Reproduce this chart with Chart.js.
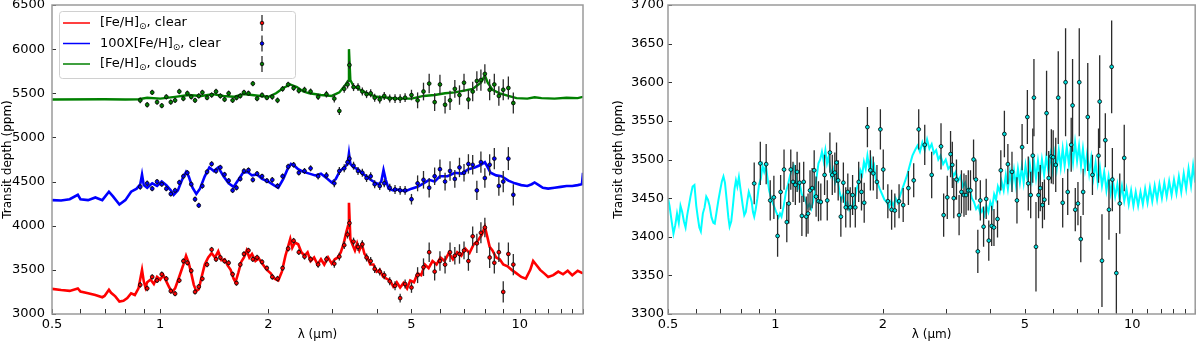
<!DOCTYPE html>
<html>
<head>
<meta charset="utf-8">
<script src="https://cdn.jsdelivr.net/npm/chart.js@4.4.0/dist/chart.umd.min.js"></script>
<style>
  html, body { margin: 0; padding: 0; background: #fff; }
  #wrap { position: relative; width: 1200px; height: 346px; }
  .panel { position: absolute; top: 0; width: 600px; height: 346px; }
</style>
</head>
<body>
<div id="wrap">
  <div class="panel" style="left:0"><canvas id="left" width="600" height="346"></canvas></div>
  <div class="panel" style="left:600px"><canvas id="right" width="600" height="346"></canvas></div>
</div>
<script>
// ---- axes ----
const xTickVals = [0.5, 0.6, 0.7, 0.8, 0.9, 1, 2, 3, 4, 5, 6, 7, 8, 9, 10, 11, 12, 13, 14, 15];
const xTickLabels = [0.5, 1, 2, 5, 10];
const leftYTicks = [3000, 3500, 4000, 4500, 5000, 5500, 6000, 6500];
const rightYTicks = [3300, 3350, 3400, 3450, 3500, 3550, 3600, 3650, 3700];

// ---- left panel: model spectra [wavelength um, depth ppm] ----
const redModel = [
  [0.50,3285],[0.53,3272],[0.56,3262],[0.59,3290],[0.60,3255],[0.63,3235],[0.66,3215],[0.69,3190],[0.70,3205],[0.72,3275],
  [0.73,3240],[0.75,3200],[0.77,3140],[0.79,3150],[0.81,3180],[0.83,3235],[0.85,3215],[0.87,3290],[0.89,3500],[0.90,3370],
  [0.91,3300],[0.92,3360],[0.94,3390],[0.96,3340],[0.98,3420],[1.00,3390],[1.02,3440],[1.04,3370],[1.06,3300],[1.08,3250],
  [1.10,3290],[1.12,3380],[1.14,3470],[1.16,3560],[1.18,3660],[1.20,3580],[1.22,3460],[1.24,3330],[1.26,3260],[1.28,3280],
  [1.30,3400],[1.33,3560],[1.36,3640],[1.39,3690],[1.42,3640],[1.45,3710],[1.48,3610],[1.51,3620],[1.54,3550],[1.57,3500],
  [1.60,3400],[1.62,3360],[1.65,3470],[1.68,3590],[1.71,3640],[1.74,3720],[1.77,3640],[1.80,3680],[1.84,3600],[1.88,3630],
  [1.93,3560],[1.98,3500],[2.03,3460],[2.08,3400],[2.13,3380],[2.18,3480],[2.23,3660],[2.27,3770],[2.30,3850],[2.33,3750],
  [2.37,3810],[2.42,3790],[2.47,3700],[2.52,3660],[2.57,3700],[2.62,3600],[2.68,3640],[2.74,3560],[2.80,3620],[2.86,3560],
  [2.93,3640],[3.00,3570],[3.06,3620],[3.12,3640],[3.18,3700],[3.24,3800],[3.29,3920],[3.33,4000],[3.35,4260],[3.38,3850],
  [3.43,3780],[3.48,3720],[3.53,3800],[3.58,3720],[3.64,3790],[3.70,3680],[3.77,3640],[3.84,3560],[3.92,3560],[4.00,3480],
  [4.08,3500],[4.17,3420],[4.26,3400],[4.36,3380],[4.45,3310],[4.55,3360],[4.65,3300],[4.75,3350],[4.86,3290],[4.96,3380],
  [5.08,3360],[5.20,3460],[5.32,3440],[5.45,3560],[5.58,3520],[5.72,3600],[5.87,3560],[6.02,3640],[6.18,3600],[6.35,3690],
  [6.52,3620],[6.70,3700],[6.88,3660],[7.06,3740],[7.25,3690],[7.45,3790],[7.65,3830],[7.85,3900],[8.00,3990],[8.12,3880],
  [8.25,3760],[8.40,3720],[8.60,3640],[8.80,3620],[9.00,3560],[9.25,3540],[9.50,3500],[9.80,3460],[10.1,3420],[10.4,3400],
  [10.7,3500],[10.9,3600],[11.1,3560],[11.4,3500],[11.7,3460],[12.0,3420],[12.4,3440],[12.8,3480],[13.2,3450],[13.6,3490],
  [14.0,3440],[14.5,3490],[15.0,3460]
];
const blueModel = [
  [0.50,4290],[0.53,4285],[0.56,4300],[0.59,4350],[0.60,4300],[0.63,4290],[0.66,4320],[0.69,4290],[0.72,4385],[0.74,4330],
  [0.77,4240],[0.80,4290],[0.83,4385],[0.86,4420],[0.88,4470],[0.89,4580],[0.90,4460],[0.92,4430],[0.95,4480],[0.98,4450],
  [1.01,4500],[1.04,4460],[1.07,4400],[1.09,4350],[1.12,4400],[1.15,4520],[1.18,4610],[1.20,4560],[1.23,4430],[1.26,4360],
  [1.29,4420],[1.33,4560],[1.37,4660],[1.41,4620],[1.45,4660],[1.50,4560],[1.55,4480],[1.60,4440],[1.65,4520],[1.70,4600],
  [1.75,4610],[1.80,4570],[1.86,4580],[1.92,4530],[2.00,4500],[2.07,4460],[2.13,4430],[2.20,4530],[2.26,4640],[2.31,4700],
  [2.36,4680],[2.42,4640],[2.50,4610],[2.60,4590],[2.70,4570],[2.80,4590],[2.90,4540],[3.00,4490],[3.08,4530],[3.16,4620],
  [3.25,4660],[3.32,4700],[3.35,4820],[3.38,4700],[3.45,4660],[3.55,4640],[3.65,4590],[3.75,4560],[3.85,4520],[3.95,4490],
  [4.05,4470],[4.12,4500],[4.18,4630],[4.24,4520],[4.32,4420],[4.45,4400],[4.60,4410],[4.80,4390],[5.00,4420],[5.20,4440],
  [5.40,4480],[5.60,4520],[5.80,4500],[6.00,4560],[6.30,4560],[6.60,4600],[6.90,4590],[7.20,4640],[7.50,4660],[7.80,4690],
  [8.00,4720],[8.15,4660],[8.30,4600],[8.60,4570],[8.90,4560],[9.30,4510],[9.70,4480],[10.1,4460],[10.5,4450],[10.8,4470],
  [11.0,4490],[11.3,4460],[11.6,4430],[12.0,4420],[12.5,4430],[13.0,4440],[13.5,4450],[14.0,4450],[14.5,4460],[14.9,4470],
  [15.0,4600]
];
const greenModel = [
  [0.50,5430],[0.70,5432],[0.80,5430],[0.87,5432],[0.92,5450],[1.00,5440],[1.10,5460],[1.20,5480],[1.30,5470],[1.40,5490],
  [1.50,5470],[1.60,5460],[1.70,5490],[1.80,5480],[1.90,5470],[2.00,5460],[2.10,5500],[2.20,5560],[2.30,5600],[2.40,5570],
  [2.50,5520],[2.60,5500],[2.80,5480],[3.00,5470],[3.15,5510],[3.28,5600],[3.33,5640],[3.35,6000],[3.38,5650],[3.45,5580],
  [3.60,5540],[3.80,5490],[4.00,5460],[4.30,5450],[4.60,5440],[5.00,5440],[5.40,5470],[5.80,5480],[6.20,5500],[6.60,5510],
  [7.00,5530],[7.40,5550],[7.80,5620],[8.00,5700],[8.15,5620],[8.40,5540],[8.80,5500],[9.30,5470],[9.80,5445],[10.5,5440],
  [11.0,5455],[11.5,5445],[12.5,5440],[13.5,5450],[14.5,5445],[15.0,5460]
];

// ---- left panel: simulated observations ----
const obsLam = [0.88,0.92,0.95,0.98,1.01,1.04,1.07,1.10,1.13,1.16,
  1.19,1.22,1.25,1.28,1.31,1.35,1.39,1.43,1.47,1.51,
  1.55,1.59,1.63,1.67,1.71,1.76,1.81,1.86,1.92,1.98,
  2.05,2.12,2.19,2.27,2.35,2.43,2.52,2.62,2.75,2.90,
  3.05,3.15,3.25,3.32,3.36,3.45,3.55,3.65,3.75,3.85,
  3.95,4.08,4.20,4.35,4.50,4.65,4.80,5.00,5.20,5.40,
  5.60,5.80,6.00,6.20,6.40,6.60,6.80,7.00,7.20,7.40,
  7.60,7.80,8.00,8.25,8.50,8.75,9.00,9.30,9.60];
const redObs = [3330,3290,3420,3380,3450,3400,3260,3230,3380,3600,
  3580,3490,3250,3310,3400,3560,3730,3620,3640,3600,
  3580,3450,3350,3560,3680,3720,3620,3640,3590,3520,
  3420,3400,3520,3740,3830,3700,3650,3620,3560,3620,
  3570,3650,3780,3900,4030,3820,3760,3790,3640,3600,
  3510,3480,3440,3370,3320,3180,3340,3300,3440,3530,
  3700,3480,3600,3560,3700,3660,3680,3720,3600,3880,
  3800,3920,3980,3640,3580,3700,3250,3680,3560];
const blueObs = [4440,4480,4420,4500,4470,4420,4360,4400,4490,4560,
  4600,4470,4300,4230,4450,4610,4700,4620,4660,4580,
  4510,4400,4430,4530,4620,4630,4520,4590,4560,4510,
  4520,4450,4560,4670,4690,4600,4620,4650,4560,4570,
  4480,4620,4650,4720,4760,4680,4620,4600,4540,4560,
  4470,4450,4480,4430,4410,4400,4400,4300,4480,4520,
  4430,4560,4640,4500,4620,4530,4660,4600,4700,4690,
  4400,4720,4540,4690,4760,4450,4500,4760,4350];
const greenObs = [5420,5370,5510,5400,5360,5460,5400,5420,5520,5440,
  5500,5460,5420,5470,5510,5450,5480,5520,5470,5430,
  5500,5420,5450,5470,5510,5500,5610,5440,5480,5450,
  5460,5420,5550,5600,5560,5530,5540,5520,5460,5490,
  5440,5300,5550,5600,5820,5570,5570,5520,5490,5500,
  5450,5430,5470,5440,5440,5440,5450,5480,5420,5520,
  5610,5400,5600,5370,5420,5550,5480,5620,5430,5520,
  5640,5650,5720,5540,5600,5470,5540,5560,5390];
const obsErr = [32,32,30,30,30,30,30,30,30,30,
  30,30,30,30,30,30,30,30,30,30,
  30,30,30,30,30,30,30,30,30,30,
  32,32,32,32,32,32,34,34,36,38,
  45,45,45,45,45,45,45,45,45,45,
  45,45,45,45,50,50,50,60,90,100,
  110,100,110,100,110,100,110,100,110,110,
  110,120,110,120,120,110,120,130,120];

// ---- right panel: model and retrieved spectrum ----
const steamModel = [
  [0.500,3450],[0.505,3440],[0.512,3420],[0.518,3404],[0.524,3415],[0.530,3430],[0.536,3418],[0.542,3440],[0.548,3432],[0.554,3420],
  [0.560,3412],[0.566,3428],[0.572,3440],[0.578,3452],[0.586,3465],[0.593,3467],[0.600,3440],[0.606,3425],[0.612,3412],[0.618,3407],
  [0.626,3430],[0.633,3438],[0.640,3452],[0.647,3448],[0.654,3440],[0.662,3425],[0.670,3418],[0.676,3417],[0.684,3432],[0.692,3447],
  [0.700,3460],[0.708,3472],[0.715,3478],[0.722,3470],[0.730,3448],[0.738,3425],[0.744,3413],[0.752,3420],[0.760,3440],[0.768,3462],
  [0.775,3473],[0.782,3465],[0.790,3477],[0.800,3458],[0.810,3440],[0.818,3428],[0.826,3432],[0.834,3446],[0.842,3458],[0.850,3452],
  [0.858,3445],[0.865,3432],[0.872,3426],[0.880,3435],[0.890,3450],[0.900,3468],[0.910,3475],[0.920,3492],[0.930,3484],[0.940,3492],
  [0.950,3476],[0.960,3460],[0.975,3448],[0.990,3440],[1.005,3432],[1.020,3425],[1.030,3430],[1.040,3426],[1.055,3440],[1.070,3458],
  [1.085,3468],[1.100,3480],[1.115,3488],[1.125,3492],[1.140,3480],[1.155,3462],[1.170,3468],[1.185,3455],[1.200,3452],[1.215,3446],
  [1.230,3438],[1.245,3442],[1.260,3436],[1.275,3445],[1.290,3460],[1.305,3478],[1.320,3495],[1.335,3500],[1.350,3510],[1.365,3498],
  [1.380,3512],[1.395,3495],[1.410,3504],[1.430,3480],[1.450,3488],[1.470,3470],[1.490,3478],[1.510,3460],[1.530,3448],[1.550,3455],
  [1.570,3440],[1.590,3445],[1.610,3435],[1.630,3440],[1.650,3438],[1.670,3450],[1.690,3462],[1.710,3470],[1.730,3486],[1.750,3480],
  [1.770,3497],[1.790,3488],[1.810,3505],[1.830,3490],[1.850,3500],[1.870,3486],[1.890,3492],[1.910,3475],[1.930,3470],[1.960,3462],
  [1.990,3455],[2.020,3448],[2.050,3445],[2.080,3438],[2.110,3446],[2.140,3440],[2.170,3450],[2.200,3444],[2.230,3452],[2.260,3460],
  [2.300,3470],[2.340,3480],[2.380,3493],[2.420,3505],[2.460,3512],[2.500,3518],[2.540,3510],[2.580,3522],[2.620,3512],[2.660,3526],
  [2.700,3514],[2.740,3520],[2.780,3508],[2.820,3512],[2.860,3500],[2.900,3505],[2.950,3494],[3.000,3500],[3.050,3488],[3.100,3492],
  [3.150,3478],[3.200,3484],[3.250,3472],[3.300,3478],[3.350,3465],[3.400,3470],[3.450,3458],[3.500,3462],[3.550,3450],[3.600,3445],
  [3.650,3436],[3.700,3440],[3.750,3430],[3.800,3436],[3.850,3428],[3.900,3440],[3.950,3432],[4.000,3445],[4.050,3438],[4.100,3455],
  [4.150,3448],[4.200,3465],[4.250,3458],[4.300,3472],[4.36,3460],[4.42,3480],[4.48,3462],[4.54,3484],[4.60,3466],[4.66,3486],
  [4.72,3466],[4.78,3488],[4.84,3470],[4.90,3490],[4.96,3470],[5.02,3492],[5.09,3472],[5.16,3494],[5.23,3474],[5.30,3498],
  [5.37,3476],[5.44,3498],[5.51,3478],[5.58,3500],[5.66,3480],[5.74,3504],[5.82,3484],[5.90,3506],[5.98,3486],[6.06,3508],
  [6.14,3488],[6.22,3512],[6.30,3490],[6.38,3514],[6.46,3492],[6.55,3516],[6.64,3494],[6.73,3518],[6.82,3496],[6.91,3522],
  [7.00,3498],[7.09,3518],[7.18,3492],[7.27,3514],[7.37,3488],[7.47,3508],[7.57,3482],[7.67,3502],[7.78,3476],[7.89,3496],
  [8.00,3470],[8.11,3490],[8.22,3466],[8.34,3484],[8.46,3460],[8.58,3478],[8.70,3456],[8.82,3472],[8.95,3452],[9.08,3468],
  [9.21,3448],[9.35,3466],[9.49,3446],[9.63,3462],[9.77,3442],[9.92,3460],[10.07,3440],[10.22,3458],[10.38,3440],[10.54,3458],
  [10.70,3442],[10.86,3462],[11.03,3444],[11.20,3464],[11.37,3446],[11.55,3466],[11.73,3448],[11.91,3468],[12.10,3450],[12.29,3470],
  [12.48,3452],[12.68,3472],[12.88,3454],[13.08,3474],[13.29,3456],[13.50,3478],[13.71,3458],[13.93,3482],[14.15,3462],[14.37,3488],
  [14.60,3466],[14.80,3492],[15.00,3470]
];
const steamLam = [0.872,0.907,0.942,0.967,0.990,1.014,1.034,1.057,1.076,1.090,
  1.104,1.120,1.137,1.150,1.168,1.186,1.200,1.220,1.234,1.250,
  1.267,1.284,1.300,1.320,1.340,1.373,1.397,1.421,1.443,1.467,
  1.483,1.499,1.525,1.550,1.574,1.595,1.620,1.645,1.674,1.711,
  1.742,1.773,1.810,1.845,1.880,1.925,1.968,2.005,2.065,2.116,
  2.160,2.220,2.280,2.358,2.440,2.520,2.620,2.740,2.910,2.960,
  3.030,3.095,3.130,3.160,3.215,3.270,3.320,3.375,3.420,3.470,
  3.520,3.590,3.645,3.690,3.750,3.830,3.895,3.960,4.035,4.095,
  4.190,4.280,4.380,4.480,4.600,4.750,4.910,5.080,5.110,5.190,
  5.260,5.300,5.370,5.460,5.520,5.600,5.670,5.750,5.830,5.930,
  6.000,6.100,6.200,6.380,6.500,6.590,6.740,6.800,6.920,7.040,
  7.100,7.170,7.280,7.500,7.730,8.040,8.100,8.220,8.400,8.600,
  8.750,8.790,9.020,9.220,9.490];
const steamObs = [3469,3495,3494,3447,3451,3401,3458,3487,3419,3443,
  3487,3471,3467,3484,3470,3427,3471,3426,3430,3460,
  3463,3486,3452,3446,3445,3480,3447,3509,3480,3483,
  3496,3473,3426,3470,3438,3458,3438,3454,3438,3471,
  3458,3444,3542,3486,3482,3471,3539,3487,3446,3435,
  3434,3446,3441,3463,3473,3539,3519,3480,3517,3428,
  3451,3507,3493,3450,3474,3428,3458,3454,3454,3460,
  3460,3500,3474,3381,3447,3413,3449,3395,3414,3412,
  3423,3486,3533,3494,3484,3447,3516,3555,3469,3454,
  3505,3580,3387,3454,3463,3441,3448,3560,3476,3504,
  3503,3493,3580,3444,3600,3458,3519,3570,3435,3443,
  3600,3397,3458,3555,3480,3505,3575,3369,3525,3435,
  3620,3474,3353,3443,3502];
const steamErr = [27,28,26,26,28,27,22,26,26,26,
  26,26,26,26,26,26,26,26,26,26,
  26,26,26,26,24,26,26,26,26,26,
  26,26,26,26,26,24,26,26,26,26,
  24,26,26,26,22,22,26,26,22,26,
  22,22,22,22,22,26,26,30,30,28,
  28,30,30,26,26,26,28,28,26,26,
  26,26,26,28,26,26,26,26,26,24,
  24,26,30,26,26,30,30,35,35,30,
  35,50,58,30,30,30,26,55,35,35,
  35,35,60,32,70,30,35,60,28,28,
  70,30,30,70,26,35,60,60,35,39,
  60,41,52,39,43];

const FONT = 'DejaVu Sans';

function pairs(arr) { return arr.map(p => ({ x: p[0], y: p[1] })); }
function zip(xs, ys) { return xs.map((x, i) => ({ x: x, y: ys[i] })); }

// error bars are drawn just before the marker dataset so the dots sit on top
const errorBars = {
  id: 'errorBars',
  beforeDatasetDraw(chart, args) {
    const ds = chart.data.datasets[args.index];
    if (!ds.errors) return;
    const { ctx, chartArea: a } = chart;
    const xs = chart.scales.x, ys = chart.scales.y;
    ctx.save();
    ctx.beginPath();
    ctx.rect(a.left, a.top, a.width, a.height);
    ctx.clip();
    ctx.strokeStyle = '#2b2b2b';
    ctx.lineWidth = 1.3;
    ds.data.forEach((p, i) => {
      const px = xs.getPixelForValue(p.x);
      ctx.beginPath();
      ctx.moveTo(px, ys.getPixelForValue(p.y - ds.errors[i]));
      ctx.lineTo(px, ys.getPixelForValue(p.y + ds.errors[i]));
      ctx.stroke();
    });
    ctx.restore();
  }
};

// matplotlib-like box with inward ticks, plus a legend with errorbar keys
const frameAndLegend = {
  id: 'frameAndLegend',
  afterDraw(chart, args, opts) {
    const { ctx, chartArea: a, scales } = chart;
    ctx.save();
    ctx.strokeStyle = '#333';
    ctx.lineWidth = 1;
    scales.x.ticks.forEach(t => {
      const px = Math.round(scales.x.getPixelForValue(t.value)) + 0.5;
      ctx.beginPath(); ctx.moveTo(px, a.bottom); ctx.lineTo(px, a.bottom - 5); ctx.stroke();
    });
    scales.y.ticks.forEach(t => {
      const py = Math.round(scales.y.getPixelForValue(t.value)) + 0.5;
      ctx.beginPath(); ctx.moveTo(a.left, py); ctx.lineTo(a.left + 4, py); ctx.stroke();
    });
    ctx.strokeStyle = '#9a9a9a';
    ctx.lineWidth = 1.5;
    ctx.strokeRect(a.left, a.top, a.width, a.height);

    // legend
    const L = opts;
    if (!L || !L.entries) { ctx.restore(); return; }
    ctx.fillStyle = 'rgba(255,255,255,0.85)';
    ctx.strokeStyle = '#d0d0d0';
    ctx.lineWidth = 1;
    ctx.beginPath();
    ctx.roundRect(L.x + 0.5, L.y + 0.5, L.w, L.h, 3);
    ctx.fill(); ctx.stroke();
    L.entries.forEach((e, i) => {
      const cy = L.y + L.rowTop + i * L.rowGap;
      ctx.strokeStyle = e.color;
      ctx.lineWidth = 1.5;
      ctx.beginPath(); ctx.moveTo(L.x + 4, cy); ctx.lineTo(L.x + 31, cy); ctx.stroke();
      let tx = L.x + L.textOff;
      ctx.fillStyle = '#000';
      ctx.textBaseline = 'middle';
      e.text.forEach(part => {
        if (part.sub) {
          ctx.font = '9px "' + FONT + '"';
          ctx.fillText(part.t, tx, cy + 4);
        } else {
          ctx.font = '13px "' + FONT + '"';
          ctx.fillText(part.t, tx, cy);
        }
        tx += ctx.measureText(part.t).width;
      });
      const mx = L.x + L.markOff;
      ctx.strokeStyle = '#2b2b2b';
      ctx.lineWidth = 1.3;
      ctx.beginPath(); ctx.moveTo(mx, cy - 8); ctx.lineTo(mx, cy + 8); ctx.stroke();
      ctx.fillStyle = e.color;
      ctx.strokeStyle = '#000';
      ctx.lineWidth = 0.8;
      ctx.beginPath(); ctx.arc(mx, cy, 1.8, 0, Math.PI * 2); ctx.fill(); ctx.stroke();
    });
    ctx.restore();
  }
};

function modelSet(data, color, width) {
  return { type: 'scatter', data: data, showLine: true, borderColor: color, borderWidth: width,
    pointRadius: 0, tension: 0, order: 2 };
}
function obsSet(data, errs, color) {
  return { type: 'scatter', data: data, errors: errs, showLine: false, pointRadius: 1.9,
    pointBackgroundColor: color, pointBorderColor: '#000', pointBorderWidth: 0.8, order: 1 };
}

function makeOptions(yMin, yMax, yTicks, yWidth, yPad, padLeft, padRight, legend) {
  return {
    responsive: false,
    animation: false,
    layout: { padding: { left: padLeft, right: padRight, top: 5, bottom: 0 } },
    plugins: {
      legend: { display: false },
      tooltip: { enabled: false },
      frameAndLegend: legend
    },
    scales: {
      x: {
        type: 'logarithmic', min: 0.5, max: 15,
        afterBuildTicks: s => { s.ticks = xTickVals.map(v => ({ value: v })); },
        afterFit: s => { s.height = 32; s.paddingLeft = 0; s.paddingRight = 0; },
        grid: { display: false, drawTicks: false },
        border: { display: false },
        ticks: {
          autoSkip: false, maxRotation: 0, padding: 3, color: '#000',
          font: { family: FONT, size: 13 },
          callback: v => xTickLabels.includes(v) ? String(v) : ''
        },
        title: { display: true, text: 'λ (μm)', color: '#000', font: { family: FONT, size: 12 },
          padding: { top: 0, bottom: 4 } }
      },
      y: {
        min: yMin, max: yMax,
        afterBuildTicks: s => { s.ticks = yTicks.map(v => ({ value: v })); },
        afterFit: s => { s.width = yWidth; s.paddingTop = 0; s.paddingBottom = 0; },
        grid: { display: false, drawTicks: false },
        border: { display: false },
        ticks: { padding: yPad, color: '#000', font: { family: FONT, size: 13 },
          callback: v => String(v) },
        title: { display: true, text: 'Transit depth (ppm)', color: '#000', font: { family: FONT, size: 12 },
          padding: { top: 1, bottom: 0 } }
      }
    }
  };
}

new Chart(document.getElementById('left'), {
  type: 'scatter',
  data: {
    datasets: [
      modelSet(pairs(redModel), '#ff0000', 2.6),
      modelSet(pairs(blueModel), '#0000ff', 2.6),
      modelSet(pairs(greenModel), '#008000', 2.4),
      obsSet(zip(obsLam, redObs), obsErr, '#ff0000'),
      obsSet(zip(obsLam, blueObs), obsErr, '#0000ff'),
      obsSet(zip(obsLam, greenObs), obsErr, '#008000')
    ]
  },
  options: makeOptions(3000, 6500, leftYTicks, 52, 7, 0, 17, {
    x: 59, y: 11, w: 236, h: 67, rowTop: 12, rowGap: 20.5, textOff: 41, markOff: 203,
    entries: [
      { color: '#ff0000', text: [{ t: '[Fe/H]' }, { t: '⊙', sub: true }, { t: ', clear' }] },
      { color: '#0000ff', text: [{ t: '100X[Fe/H]' }, { t: '⊙', sub: true }, { t: ', clear' }] },
      { color: '#008000', text: [{ t: '[Fe/H]' }, { t: '⊙', sub: true }, { t: ', clouds' }] }
    ]
  }),
  plugins: [errorBars, frameAndLegend]
});

new Chart(document.getElementById('right'), {
  type: 'scatter',
  data: {
    datasets: [
      modelSet(pairs(steamModel), '#00ffff', 2),
      obsSet(zip(steamLam, steamObs), steamErr, '#00e0e0')
    ]
  },
  options: makeOptions(3300, 3700, rightYTicks, 57, 4, 11, 3, {
    x: 674, y: 11, w: 244, h: 25, rowTop: 12, rowGap: 20, textOff: 43, markOff: 212,
    entries: [
      { color: '#00ffff', text: [{ t: 'steam H' }, { t: '2', sub: true }, { t: 'O (4 visits)' }] }
    ]
  }),
  plugins: [errorBars, frameAndLegend]
});
</script>
</body>
</html>
